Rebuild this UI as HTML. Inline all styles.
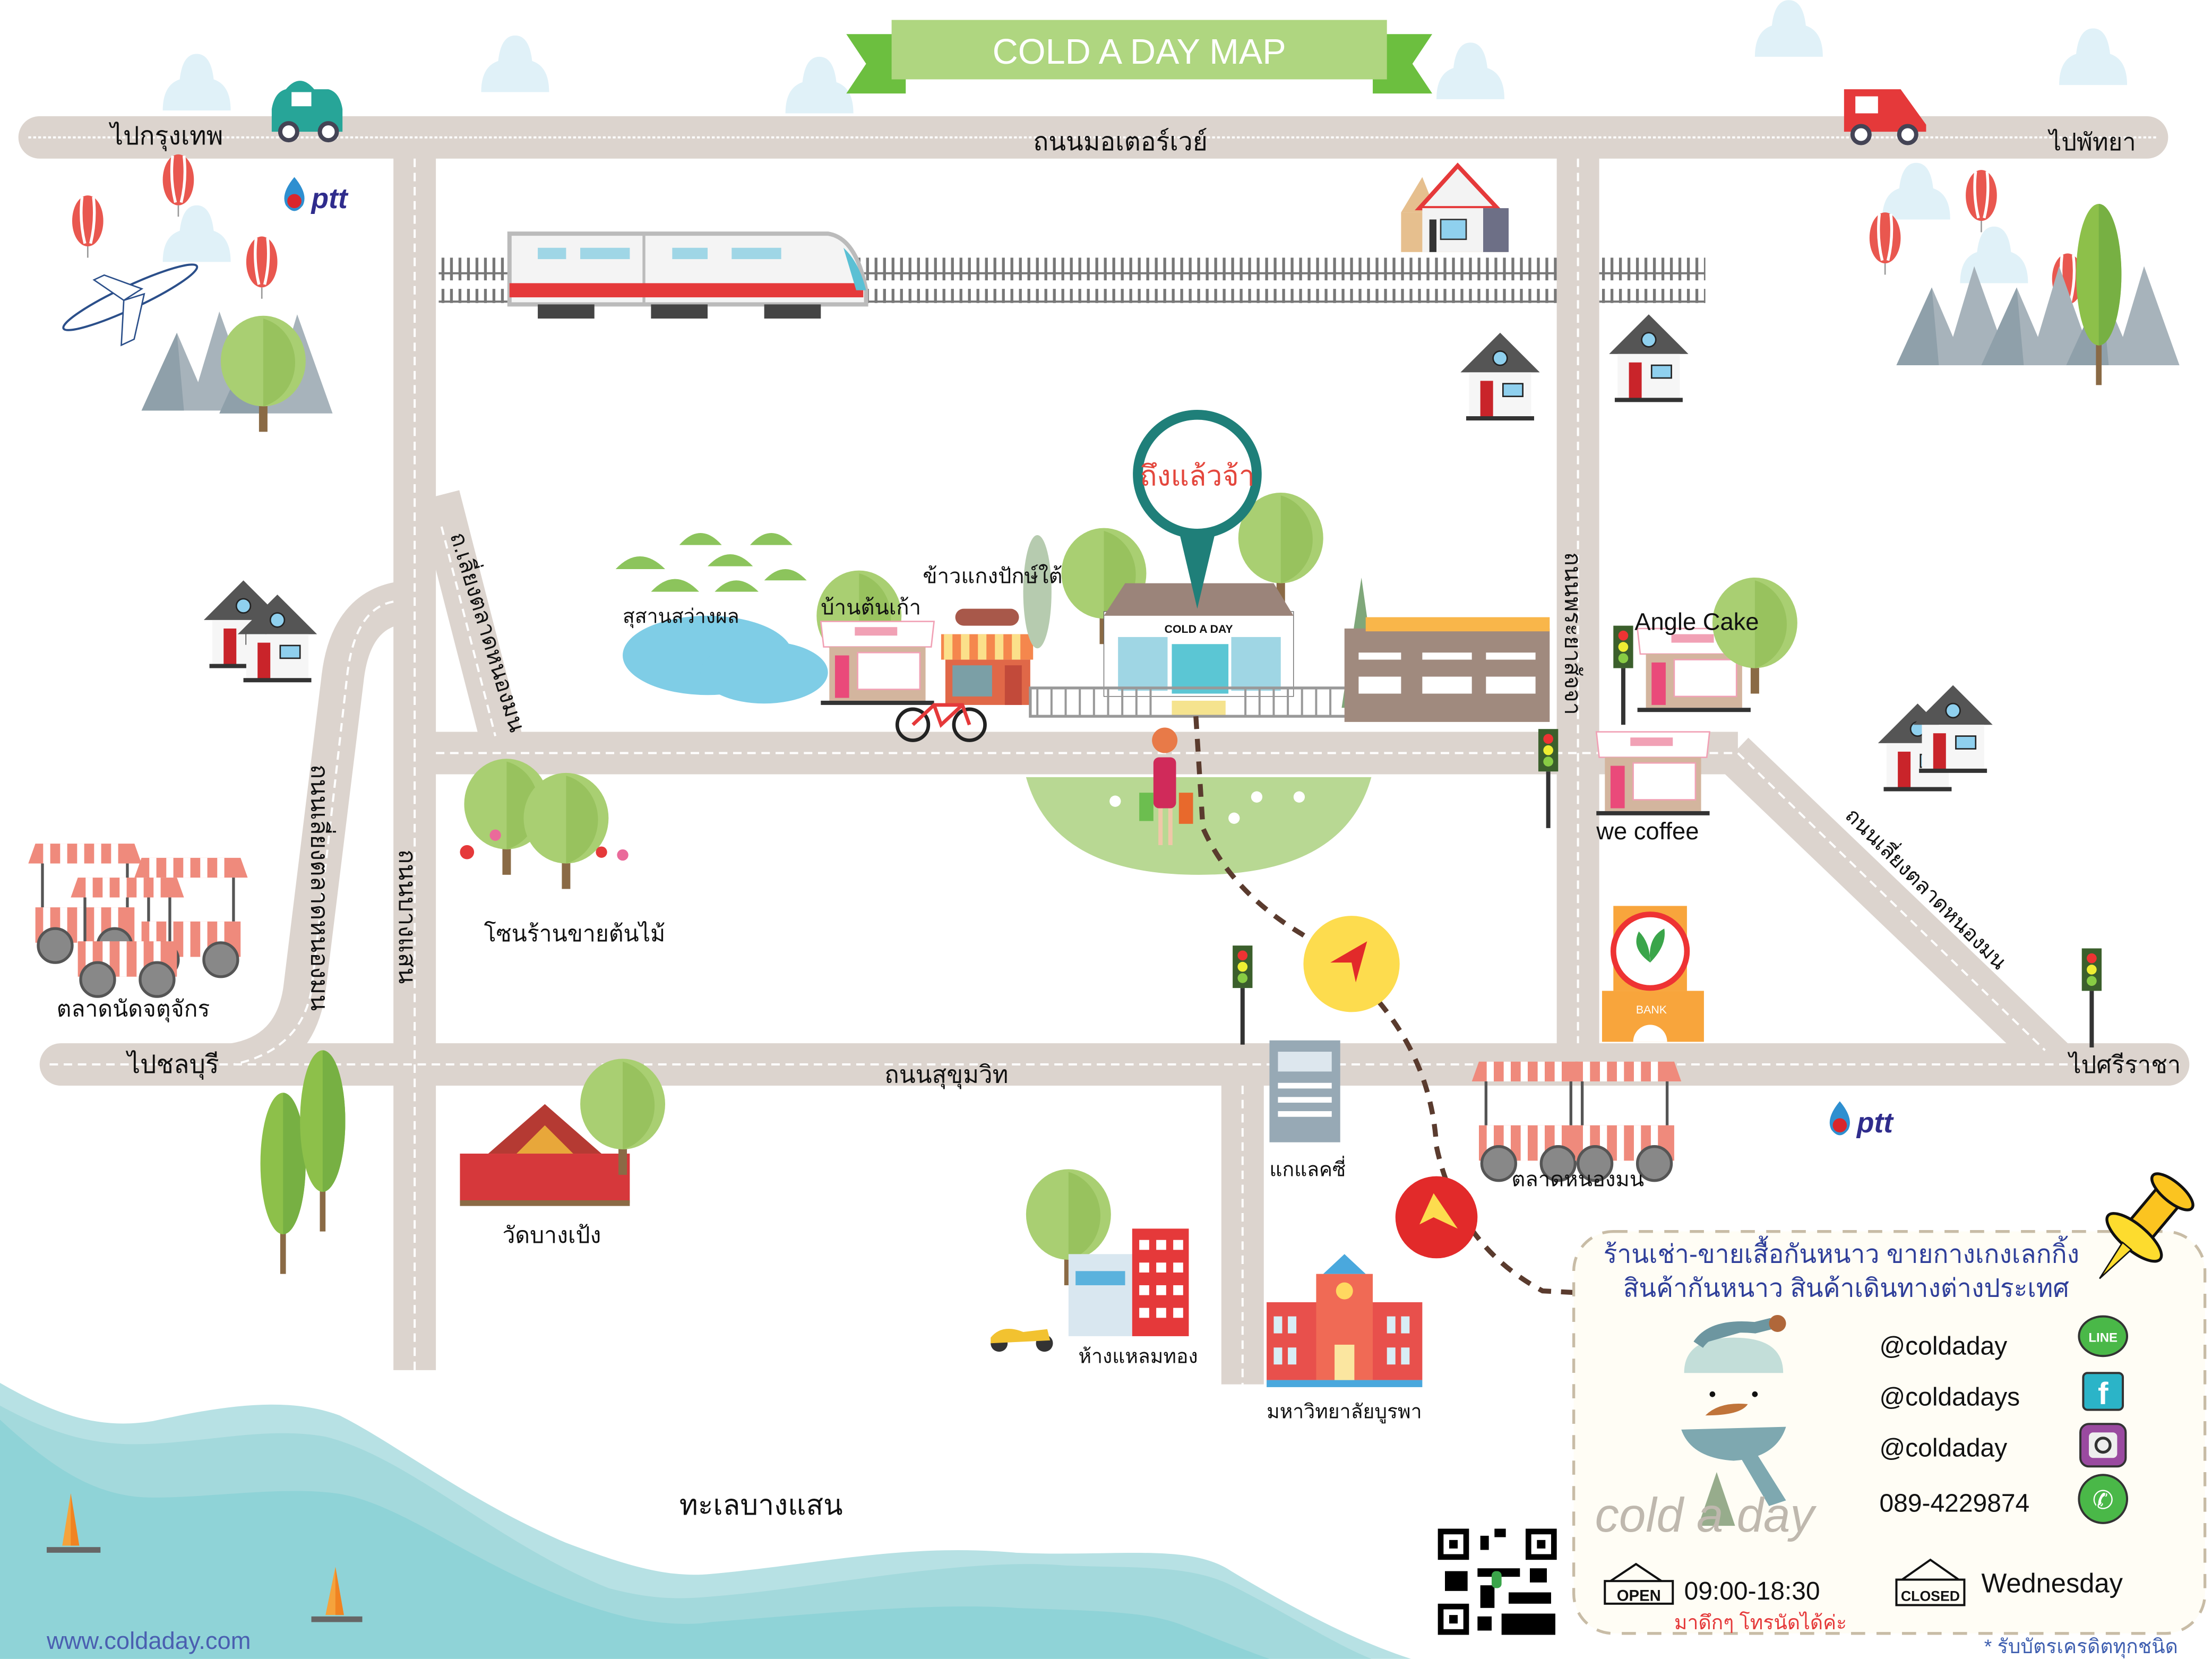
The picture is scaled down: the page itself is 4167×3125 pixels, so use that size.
<!DOCTYPE html>
<html><head><meta charset="utf-8"><style>
html,body{margin:0;padding:0;background:#fff}
svg{display:block}
text{font-family:"Liberation Sans","Noto Sans CJK SC",sans-serif;fill:#111}
</style></head><body>
<svg width="4167" height="3125" viewBox="0 0 1563 1172" xmlns="http://www.w3.org/2000/svg">
<defs>
<g id="cloud"><path d="M0,0 Q0,-18 12,-22 Q14,-40 24,-40 Q34,-40 36,-22 Q48,-18 48,0 Z" fill="#e0f1f8"/></g>
<g id="tree"><rect x="-3" y="0" width="6" height="40" fill="#8a6a45"/><ellipse cx="0" cy="-10" rx="30" ry="32" fill="#a9cf72"/><path d="M0,-40 A30,32 0 0 1 0,22 Z" fill="#98c25e"/></g>
<g id="tallTree"><rect x="-2" y="0" width="4" height="60" fill="#8a6a45"/><ellipse cx="0" cy="-18" rx="16" ry="50" fill="#8dc04a"/><path d="M0,-68 A16,50 0 0 1 0,32 Z" fill="#77b043"/></g>
<g id="house"><path d="M-28,0 L0,-28 L28,0 Z" fill="#555"/><rect x="-22" y="0" width="44" height="32" fill="#f6f6f6"/><rect x="-14" y="6" width="9" height="26" fill="#c9242a"/><rect x="2" y="8" width="14" height="9" fill="#8fd0ee" stroke="#222" stroke-width="1"/><circle cx="0" cy="-10" r="5" fill="#8fd0ee" stroke="#222"/><rect x="-24" y="31" width="48" height="3" fill="#333"/></g>
<g id="mtn"><path d="M0,0 L25,-55 L40,-20 L55,-70 L80,0 Z" fill="#a7b3bb"/><path d="M25,-55 L30,0 L0,0 Z" fill="#8fa0aa"/></g>
<g id="cart"><path d="M0,0 L70,0 L75,14 L-5,14 Z" fill="#ef8a7c"/><path d="M8,0 L8,14 M20,0 L20,14 M32,0 L32,14 M44,0 L44,14 M56,0 L56,14" stroke="#fff" stroke-width="5"/><line x1="5" y1="14" x2="5" y2="45" stroke="#555" stroke-width="2"/><line x1="65" y1="14" x2="65" y2="45" stroke="#555" stroke-width="2"/><rect x="0" y="45" width="70" height="25" fill="#ef8a7c"/><path d="M8,45 L8,70 M20,45 L20,70 M32,45 L32,70 M44,45 L44,70 M56,45 L56,70" stroke="#fff" stroke-width="5"/><circle cx="14" cy="72" r="12" fill="#888" stroke="#555" stroke-width="2"/><circle cx="56" cy="72" r="12" fill="#888" stroke="#555" stroke-width="2"/></g>
<g id="balloon"><ellipse cx="0" cy="0" rx="11" ry="18" fill="#e9574f"/><path d="M-4,-17 Q-6,0 -2,16 M4,-17 Q6,0 2,16" stroke="#fff" stroke-width="2" fill="none"/><line x1="0" y1="18" x2="0" y2="26" stroke="#999"/></g>
<g id="light"><rect x="-1.5" y="0" width="3" height="40" fill="#333"/><rect x="-7" y="-30" width="14" height="30" fill="#3b5f2c"/><circle cx="0" cy="-23" r="3.5" fill="#e33"/><circle cx="0" cy="-15" r="3.5" fill="#ee3"/><circle cx="0" cy="-7" r="3.5" fill="#8c4"/></g>
<g id="shopc"><path d="M-38,0 L38,0 L40,-18 L-40,-18 Z" fill="#fff" stroke="#f1a1b5"/><rect x="-16" y="-14" width="30" height="6" fill="#f1a1b5"/><rect x="-34" y="0" width="68" height="38" fill="#d3b59e"/><rect x="-30" y="6" width="10" height="30" fill="#ea4a7a"/><rect x="-14" y="4" width="44" height="26" fill="#fff" stroke="#f1a1b5"/><rect x="-40" y="38" width="80" height="3" fill="#333"/></g>
</defs>

<use href="#cloud" x="115" y="78"/><use href="#cloud" x="340" y="65"/><use href="#cloud" x="555" y="80"/><use href="#cloud" x="1015" y="70"/><use href="#cloud" x="1240" y="40"/><use href="#cloud" x="1455" y="60"/><use href="#cloud" x="115" y="185"/><use href="#cloud" x="1385" y="200"/>
<use href="#cloud" x="1330" y="155"/>

<path d="M0,977 C40,1000 70,1010 108,1004 C150,995 200,985 240,1000 C280,1020 330,1060 400,1090 C440,1105 470,1115 502,1112 C580,1105 640,1090 718,1097 C790,1100 840,1090 870,1110 C920,1140 960,1160 997,1172 L0,1172 Z" fill="#b7e1e4"/>
<path d="M0,993 C40,1015 70,1022 108,1020 C150,1018 190,1008 230,1015 C290,1030 350,1090 430,1122 C460,1130 480,1130 502,1128 C580,1122 680,1100 753,1106 C800,1108 840,1105 870,1120 C910,1140 940,1160 969,1172 L0,1172 Z" fill="#a3d9dc"/>
<path d="M0,1003 C40,1040 70,1058 108,1058 C150,1058 200,1050 237,1055 C290,1062 350,1120 445,1143 C470,1148 490,1148 502,1146 C580,1140 660,1132 718,1136 C770,1138 810,1138 835,1148 C860,1158 880,1166 897,1172 L0,1172 Z" fill="#8fd3d7"/>
<path d="M50,1055 L44,1092 L56,1092 Z" fill="#f5a33c"/><path d="M50,1055 L50,1092 L56,1092 Z" fill="#f08322"/><rect x="33" y="1093" width="38" height="4" fill="#666"/>
<path d="M237,1107 L230,1141 L243,1141 Z" fill="#f5a33c"/><path d="M237,1107 L237,1141 L243,1141 Z" fill="#f08322"/><rect x="220" y="1142" width="36" height="4" fill="#666"/>
<text x="33" y="1165" font-size="17" style="fill:#4a5fb0">www.coldaday.com</text>
<text x="480" y="1070" font-size="20">ทะเลบางแสน</text>

<!-- railway drawn before roads -->
<g stroke="#777" stroke-width="1.5">
<line x1="310" y1="193" x2="1100" y2="193"/><line x1="310" y1="213" x2="1100" y2="213"/>
<line x1="1130" y1="193" x2="1205" y2="193"/><line x1="1130" y1="213" x2="1205" y2="213"/>
</g>
<path d="M312,190 L1100,190 M1132,190 L1205,190" stroke="#777" stroke-width="16" stroke-dasharray="2,4" fill="none"/>
<path d="M312,209 L1100,209 M1132,209 L1205,209" stroke="#777" stroke-width="10" stroke-dasharray="2,4" fill="none"/>

<g fill="none" stroke="#dcd4ce" stroke-width="30" stroke-linecap="round">
<line x1="28" y1="97" x2="1517" y2="97"/>
<line x1="293" y1="97" x2="293" y2="968" stroke-linecap="butt"/>
<line x1="1115" y1="97" x2="1115" y2="752" stroke-linecap="butt"/>
<line x1="293" y1="532" x2="1228" y2="532" stroke-linecap="butt"/>
<path d="M1225,532 L1455,752" stroke-linecap="butt"/>
<line x1="43" y1="752" x2="1532" y2="752"/>
<line x1="878" y1="752" x2="878" y2="978" stroke-linecap="butt"/>
<path d="M293,425 Q248,425 242,480 L215,700 Q208,745 165,752" stroke-linecap="butt"/>
<path d="M310,350 L355,525" stroke-linecap="butt"/>
</g>
<g fill="none" stroke="#fff" stroke-width="1.5" stroke-dasharray="6,4">
<line x1="20" y1="97" x2="1525" y2="97" stroke-dasharray="2,1.5"/>
<line x1="293" y1="112" x2="293" y2="975"/>
<line x1="1115" y1="112" x2="1115" y2="737"/>
<line x1="308" y1="532" x2="1225" y2="532"/>
<path d="M1228,532 L1445,742"/>
<line x1="35" y1="752" x2="1540" y2="752"/>
<line x1="878" y1="767" x2="878" y2="980"/>
<path d="M278,425 Q250,430 245,480 L220,700 Q212,742 165,752"/>
<path d="M312,372 L350,520"/>
</g>

<path d="M598,24 L640,24 L640,66 L598,66 L612,45 Z" fill="#6cbf3f"/>
<path d="M1012,24 L970,24 L970,66 L1012,66 L998,45 Z" fill="#6cbf3f"/>
<rect x="630" y="14" width="350" height="42" fill="#afd680"/>
<text x="805" y="45" font-size="25" text-anchor="middle" style="fill:#fff">COLD A DAY   MAP</text>

<g transform="translate(192,63)"><path d="M10,0 Q20,-12 30,0 L40,0 Q48,2 50,14 L50,30 L0,30 L0,14 Q2,2 10,0Z" fill="#27a598"/><rect x="14" y="2" width="14" height="10" fill="#fff"/><circle cx="12" cy="30" r="6" fill="#fff" stroke="#445" stroke-width="3"/><circle cx="40" cy="30" r="6" fill="#fff" stroke="#445" stroke-width="3"/></g>
<g transform="translate(1303,63)"><path d="M0,0 L40,0 L58,25 L58,30 L0,30 Z" fill="#e5393a"/><rect x="8" y="5" width="16" height="12" fill="#fff"/><circle cx="12" cy="32" r="6" fill="#fff" stroke="#445" stroke-width="3"/><circle cx="45" cy="32" r="6" fill="#fff" stroke="#445" stroke-width="3"/></g>
<text x="78" y="102" font-size="18">ไปกรุงเทพ</text>
<text x="730" y="106" font-size="18">ถนนมอเตอร์เวย์</text>
<text x="1448" y="106" font-size="17">ไปพัทยา</text>

<use href="#balloon" x="62" y="156"/><use href="#balloon" x="126" y="127"/><use href="#balloon" x="185" y="185"/>
<use href="#balloon" x="1332" y="168"/><use href="#balloon" x="1400" y="138"/><use href="#balloon" x="1461" y="197"/>
<g transform="translate(198,125)"><path d="M10,0 Q0,12 4,20 Q10,28 16,20 Q20,12 10,0Z" fill="#2e8fd0"/><circle cx="10" cy="17" r="5" fill="#d9262c"/><text x="22" y="22" font-size="20" font-style="italic" font-weight="bold" style="fill:#2f2c8c">ptt</text></g>
<g transform="translate(1290,778)"><path d="M10,0 Q0,12 4,20 Q10,28 16,20 Q20,12 10,0Z" fill="#2e8fd0"/><circle cx="10" cy="17" r="5" fill="#d9262c"/><text x="22" y="22" font-size="20" font-style="italic" font-weight="bold" style="fill:#2f2c8c">ptt</text></g>
<g transform="translate(92,210) rotate(-25)"><ellipse cx="0" cy="0" rx="52" ry="8" fill="#fff" stroke="#2b4f8a" stroke-width="1.5"/><path d="M-5,0 L-20,28 L-10,28 L10,2 Z M-5,0 L-18,-22 L-10,-22 L10,-2 Z" fill="#fff" stroke="#2b4f8a"/></g>
<use href="#mtn" x="100" y="290"/><use href="#mtn" x="155" y="292"/>
<use href="#tree" x="186" y="265"/>
<use href="#mtn" x="1340" y="258"/><use href="#mtn" x="1400" y="258"/><use href="#mtn" x="1460" y="258"/>
<use href="#tallTree" x="1483" y="212"/>

<g><path d="M360,165 L585,165 Q605,168 612,205 L612,215 L360,215 Z" fill="#f4f4f4" stroke="#bbb" stroke-width="3"/><line x1="455" y1="165" x2="455" y2="215" stroke="#bbb" stroke-width="2"/><rect x="360" y="200" width="250" height="10" fill="#e5393a"/><g fill="#9fd6e6"><rect x="380" y="175" width="20" height="8"/><rect x="410" y="175" width="35" height="8"/><rect x="475" y="175" width="25" height="8"/><rect x="517" y="175" width="35" height="8"/></g><path d="M596,175 Q607,185 612,205 L605,205 Z" fill="#5bc0d4"/><rect x="380" y="215" width="40" height="10" fill="#444"/><rect x="460" y="215" width="40" height="10" fill="#444"/><rect x="540" y="215" width="40" height="10" fill="#444"/></g>

<g transform="translate(990,125)"><path d="M0,25 L15,0 L25,25 Z" fill="#e6bf8e"/><rect x="0" y="25" width="75" height="28" fill="#e6bf8e"/><path d="M13,22 L40,-8 L68,22 Z" fill="#f3f3f3" stroke="#e5393a" stroke-width="3"/><rect x="15" y="22" width="50" height="31" fill="#f3f3f3"/><rect x="58" y="22" width="18" height="31" fill="#6d6f86"/><rect x="28" y="30" width="18" height="14" fill="#8fd0ee" stroke="#333"/><rect x="20" y="30" width="5" height="23" fill="#333"/></g>
<use href="#house" x="1060" y="263"/><use href="#house" x="1165" y="250"/>
<use href="#house" x="172" y="438"/><use href="#house" x="196" y="448"/>
<use href="#house" x="1355" y="525"/><use href="#house" x="1380" y="512"/>

<use href="#cart" x="25" y="596"/><use href="#cart" x="100" y="606"/><use href="#cart" x="55" y="620"/>
<text x="40" y="718" font-size="16">ตลาดนัดจตุจักร</text>
<text x="90" y="758" font-size="18">ไปชลบุรี</text>
<text transform="translate(220,540) rotate(90)" font-size="17">ถนนเลี่ยงตลาดหนองมน</text>
<text transform="translate(282,600) rotate(90)" font-size="17">ถนนบางแสน</text>
<text transform="translate(318,378) rotate(73)" font-size="16">ถ.เลี่ยงตลาดหนองมน</text>
<use href="#tree" x="358" y="578"/><use href="#tree" x="400" y="588"/>
<g fill="#e5393a"><circle cx="330" cy="602" r="5"/><circle cx="350" cy="590" r="4" fill="#ea6a9a"/><circle cx="440" cy="604" r="4" fill="#ea6a9a"/><circle cx="425" cy="602" r="4"/></g>
<text x="342" y="665" font-size="16">โซนร้านขายต้นไม้</text>
<use href="#tallTree" x="200" y="840"/><use href="#tallTree" x="228" y="810"/>

<g transform="translate(325,780)"><rect x="0" y="35" width="120" height="35" fill="#d6383b"/><path d="M20,35 L60,0 L100,35 Z" fill="#b53a33"/><path d="M40,35 L60,15 L80,35 Z" fill="#e8a73a"/><rect x="0" y="68" width="120" height="4" fill="#8b6a45"/></g>
<use href="#tree" x="440" y="790"/>
<text x="355" y="878" font-size="16">วัดบางเป้ง</text>

<ellipse cx="500" cy="463" rx="60" ry="28" fill="#7fcde6"/><ellipse cx="540" cy="475" rx="45" ry="22" fill="#7fcde6"/>
<g fill="#8cc45c"><path d="M480,385 Q495,368 510,385Z"/><path d="M530,385 Q545,368 560,385Z"/><path d="M435,402 Q452,384 470,402Z"/><path d="M500,400 Q516,383 532,400Z"/><path d="M540,410 Q555,394 570,410Z"/><path d="M460,418 Q477,400 494,418Z"/><path d="M505,418 Q520,402 536,418Z"/></g>
<text x="440" y="440" font-size="14">สุสานสว่างผล</text>
<use href="#tree" x="607" y="445"/>
<use href="#shopc" x="620" y="457"/>
<text x="580" y="434" font-size="15">บ้านต้นเก้า</text>
<g transform="translate(665,448)"><rect x="0" y="0" width="65" height="18" fill="#f5874d"/><path d="M5,0 L5,18 M17,0 L17,18 M29,0 L29,18 M41,0 L41,18 M53,0 L53,18" stroke="#fbe08a" stroke-width="6"/><rect x="3" y="18" width="60" height="32" fill="#e06848"/><rect x="8" y="22" width="28" height="22" fill="#7b9fa6"/><rect x="45" y="22" width="12" height="28" fill="#c24a3a"/><rect x="10" y="-18" width="45" height="12" rx="6" fill="#a8584a"/></g>
<ellipse cx="733" cy="418" rx="10" ry="40" fill="#b6cbaf"/>
<text x="652" y="412" font-size="15">ข้าวแกงปักษ์ใต้</text>
<g transform="translate(665,512)" fill="none" stroke="#222" stroke-width="2.5"><circle cx="-20" cy="0" r="11"/><circle cx="20" cy="0" r="11"/><path d="M-20,0 L-5,-14 L15,-14 L20,0 M-5,-14 L0,0 L15,-14" stroke="#e5393a"/></g>

<path d="M725,549 L969,549 Q950,618 847,618 Q744,618 725,549 Z" fill="#b8d893"/>
<use href="#tree" x="780" y="415"/><use href="#tree" x="905" y="390"/>
<path d="M962,408 L975,500 L948,500 Z" fill="#7fa77a"/>
<rect x="780" y="432" width="134" height="60" fill="#fff" stroke="#666" stroke-width="0.5"/>
<path d="M780,435 L795,412 L900,412 L914,435 Z" fill="#9b847a"/>
<rect x="790" y="450" width="35" height="38" fill="#9fd6e4"/><rect x="870" y="450" width="35" height="38" fill="#9fd6e4"/><rect x="828" y="455" width="40" height="35" fill="#5bc6d4"/>
<text x="847" y="447" font-size="8" font-weight="bold" text-anchor="middle" font-family="Liberation Serif">COLD A DAY</text>
<rect x="828" y="495" width="38" height="12" fill="#f5e38e"/>
<rect x="728" y="486" width="225" height="20" fill="none" stroke="#999" stroke-width="2"/>
<path d="M733,486 L733,506 M743,486 L743,506 M753,486 L753,506 M763,486 L763,506 M773,486 L773,506 M783,486 L783,506 M793,486 L793,506 M803,486 L803,506 M813,486 L813,506 M880,486 L880,506 M890,486 L890,506 M900,486 L900,506 M910,486 L910,506 M920,486 L920,506 M930,486 L930,506 M940,486 L940,506" stroke="#999" stroke-width="1.5"/>
<g transform="translate(950,436)"><rect x="0" y="8" width="145" height="66" fill="#a08a7e"/><rect x="15" y="0" width="130" height="10" fill="#f9b64a"/><g fill="#fff"><rect x="10" y="25" width="30" height="5"/><rect x="55" y="25" width="35" height="5"/><rect x="100" y="25" width="35" height="5"/><rect x="10" y="42" width="30" height="12"/><rect x="55" y="42" width="35" height="12"/><rect x="100" y="42" width="35" height="12"/></g></g>
<circle cx="846" cy="335" r="42" fill="#fff" stroke="#1f7f79" stroke-width="7"/>
<path d="M833,375 L846,430 L859,375 Z" fill="#1f7f79"/>
<text x="846" y="343" font-size="20" text-anchor="middle" style="fill:#e4473d">ถึงแล้วจ้า</text>
<g transform="translate(823,515)"><circle cx="0" cy="8" r="9" fill="#e87a48"/><rect x="-8" y="20" width="16" height="36" rx="4" fill="#d02a5a"/><rect x="-18" y="45" width="10" height="20" fill="#6cbe4f"/><rect x="10" y="45" width="10" height="22" fill="#e8692c"/><line x1="-3" y1="56" x2="-3" y2="82" stroke="#f0c7a8" stroke-width="3"/><line x1="4" y1="56" x2="4" y2="82" stroke="#f0c7a8" stroke-width="3"/></g>
<g fill="#fff"><circle cx="788" cy="566" r="4"/><circle cx="872" cy="578" r="4"/><circle cx="888" cy="563" r="4"/><circle cx="918" cy="563" r="4"/></g>

<path d="M845,506 L850,585 Q870,630 920,660 Q1010,720 1015,810 Q1030,880 1090,912 L1130,914" fill="none" stroke="#5a3b2e" stroke-width="3.5" stroke-dasharray="9,7"/>
<circle cx="955" cy="681" r="34" fill="#fddc4e"/><path d="M940,680 L966,665 L958,694 L955,680 Z" fill="#e22a2a"/>
<circle cx="1015" cy="860" r="29" fill="#e22a2a"/><path d="M1003,865 L1013,843 L1030,868 L1013,860 Z" fill="#fddc4e"/>

<use href="#light" x="1147" y="472"/><use href="#light" x="1094" y="545"/><use href="#light" x="878" y="698"/><use href="#light" x="1478" y="700"/>
<use href="#shopc" x="1197" y="462"/>
<use href="#tree" x="1240" y="450"/>
<text x="1155" y="445" font-size="17" font-family="Liberation Mono">Angle Cake</text>
<use href="#shopc" x="1168" y="535"/>
<text x="1128" y="593" font-size="17" font-family="Liberation Mono">we coffee</text>
<text transform="translate(1106,390) rotate(90)" font-size="16">ถนนพระยาสัจจา</text>
<text transform="translate(1303,577) rotate(45)" font-size="15">ถนนเลี่ยงตลาดหนองมน</text>
<g transform="translate(1132,640)"><rect x="8" y="0" width="52" height="60" fill="#f8a53c"/><circle cx="34" cy="32" r="26" fill="#fff" stroke="#e33" stroke-width="4"/><path d="M34,40 Q20,30 26,18 Q34,26 34,40 Q46,28 44,16 Q32,22 34,40Z" fill="#3aa54a"/><rect x="0" y="60" width="72" height="36" fill="#f8a53c"/><text x="24" y="76" font-size="8" style="fill:#fff">BANK</text><path d="M22,96 A12,12 0 0 1 46,96 Z" fill="#fff"/></g>
<text x="1462" y="758" font-size="17">ไปศรีราชา</text>
<text x="625" y="765" font-size="17">ถนนสุขุมวิท</text>
<use href="#cart" x="1045" y="750"/><use href="#cart" x="1113" y="750"/>
<text x="1068" y="838" font-size="15">ตลาดหนองมน</text>
<g transform="translate(897,735)"><rect x="0" y="0" width="50" height="72" fill="#97a9b5"/><rect x="6" y="8" width="38" height="14" fill="#dde7ee"/><rect x="6" y="30" width="38" height="4" fill="#fff"/><rect x="6" y="40" width="38" height="4" fill="#fff"/><rect x="6" y="50" width="38" height="4" fill="#fff"/></g>
<text x="897" y="831" font-size="14">แกแลคซี่</text>
<use href="#tree" x="755" y="868"/>
<g transform="translate(755,868)"><rect x="0" y="18" width="45" height="58" fill="#d9e7f0"/><rect x="45" y="0" width="40" height="76" fill="#e5393a"/><rect x="5" y="30" width="35" height="10" fill="#5ab2dd"/><g fill="#fff"><rect x="50" y="8" width="7" height="7"/><rect x="62" y="8" width="7" height="7"/><rect x="74" y="8" width="7" height="7"/><rect x="50" y="24" width="7" height="7"/><rect x="62" y="24" width="7" height="7"/><rect x="74" y="24" width="7" height="7"/><rect x="50" y="40" width="7" height="7"/><rect x="62" y="40" width="7" height="7"/><rect x="74" y="40" width="7" height="7"/><rect x="50" y="56" width="7" height="7"/><rect x="62" y="56" width="7" height="7"/><rect x="74" y="56" width="7" height="7"/></g></g>
<g transform="translate(698,935)"><circle cx="8" cy="14" r="6" fill="#333"/><circle cx="40" cy="14" r="6" fill="#333"/><path d="M2,10 Q10,0 25,6 L42,4 L44,12 L2,14Z" fill="#f2c230"/></g>
<text x="762" y="963" font-size="14">ห้างแหลมทอง</text>
<g transform="translate(895,890)"><rect x="0" y="30" width="110" height="55" fill="#e8504c"/><rect x="35" y="10" width="40" height="75" fill="#f06a55"/><path d="M40,10 L55,-4 L70,10Z" fill="#4aa8dd"/><circle cx="55" cy="22" r="6" fill="#ffd860"/><rect x="0" y="85" width="110" height="5" fill="#4aa8dd"/><g fill="#d8eef6"><rect x="5" y="40" width="6" height="12"/><rect x="15" y="40" width="6" height="12"/><rect x="85" y="40" width="6" height="12"/><rect x="95" y="40" width="6" height="12"/><rect x="5" y="62" width="6" height="12"/><rect x="15" y="62" width="6" height="12"/><rect x="85" y="62" width="6" height="12"/><rect x="95" y="62" width="6" height="12"/></g><rect x="48" y="60" width="14" height="25" fill="#fbe6a0"/></g>
<text x="895" y="1002" font-size="14">มหาวิทยาลัยบูรพา</text>

<g transform="translate(1016,1080)"><rect width="84" height="75" fill="#fff"/><g fill="#000"><rect x="0" y="0" width="22" height="22"/><rect x="62" y="0" width="22" height="22"/><rect x="0" y="53" width="22" height="22"/><rect x="30" y="5" width="6" height="10"/><rect x="40" y="0" width="8" height="6"/><rect x="28" y="28" width="30" height="6"/><rect x="5" y="30" width="16" height="14"/><rect x="30" y="40" width="10" height="16"/><rect x="50" y="45" width="30" height="8"/><rect x="45" y="60" width="38" height="15"/><rect x="28" y="62" width="10" height="10"/><rect x="65" y="28" width="12" height="10"/></g><g fill="#fff"><rect x="4" y="4" width="14" height="14"/><rect x="66" y="4" width="14" height="14"/><rect x="4" y="57" width="14" height="14"/></g><g fill="#000"><rect x="8" y="8" width="6" height="6"/><rect x="70" y="8" width="6" height="6"/><rect x="8" y="61" width="6" height="6"/></g><rect x="38" y="30" width="7" height="12" rx="3" fill="#3aa54a"/></g>

<rect x="1112" y="870" width="446" height="284" rx="28" fill="#fffdf5" stroke="#c8bca6" stroke-width="2" stroke-dasharray="10,8"/>
<text x="1133" y="892" font-size="18" style="fill:#2f3f9a">ร้านเช่า-ขายเสื้อกันหนาว  ขายกางเกงเลกกิ้ง</text>
<text x="1147" y="916" font-size="18" style="fill:#2f3f9a">สินค้ากันหนาว  สินค้าเดินทางต่างประเทศ</text>
<g transform="translate(1535,842) rotate(40)"><rect x="-10" y="0" width="20" height="40" fill="#fbc420" stroke="#111" stroke-width="2"/><ellipse cx="0" cy="0" rx="18" ry="7" fill="#fbc420" stroke="#111" stroke-width="2"/><ellipse cx="0" cy="42" rx="24" ry="9" fill="#fddc2e" stroke="#111" stroke-width="2"/><path d="M-4,50 L0,80 L4,50Z" fill="#fddc2e" stroke="#111"/></g>
<path d="M1190,970 Q1190,945 1225,945 Q1260,945 1260,970 Z" fill="#c3ded9"/><path d="M1200,950 Q1210,935 1240,938 L1252,935" fill="#6d96a0" stroke="#6d96a0" stroke-width="8"/><circle cx="1256" cy="935" r="6" fill="#b0673a"/>
<circle cx="1210" cy="985" r="2" fill="#111"/><circle cx="1240" cy="985" r="2" fill="#111"/><path d="M1205,1000 Q1215,990 1235,992 Q1230,1000 1205,1000Z" fill="#c0743a"/>
<path d="M1188,1010 L1262,1008 Q1255,1030 1225,1032 Q1195,1030 1188,1010Z" fill="#7ea8b0"/><path d="M1240,1025 L1262,1060 L1250,1064 L1230,1030Z" fill="#7ea8b0"/>
<path d="M1213,1040 L1200,1078 L1226,1078 Z" fill="#97ac8c"/>
<text x="1127" y="1082" font-size="34" font-family="Liberation Serif" font-style="italic" style="fill:#bfb8ae">cold a day</text>
<text x="1328" y="957" font-size="18" font-family="Liberation Mono">@coldaday</text>
<text x="1328" y="993" font-size="18" font-family="Liberation Mono">@coldadays</text>
<text x="1328" y="1029" font-size="18" font-family="Liberation Mono">@coldaday</text>
<text x="1328" y="1068" font-size="18" font-family="Liberation Mono">089-4229874</text>
<ellipse cx="1486" cy="944" rx="17" ry="14" fill="#4ab848" stroke="#333" stroke-width="1.5"/><text x="1486" y="948" font-size="9" font-weight="bold" text-anchor="middle" style="fill:#fff">LINE</text>
<rect x="1472" y="970" width="28" height="26" rx="3" fill="#2bb4c8" stroke="#333" stroke-width="1.5"/><text x="1486" y="992" font-size="22" font-weight="bold" text-anchor="middle" style="fill:#fff">f</text>
<rect x="1470" y="1006" width="32" height="30" rx="6" fill="#9a4aa0" stroke="#333" stroke-width="1.5"/><rect x="1476" y="1012" width="20" height="18" rx="3" fill="#eee"/><circle cx="1486" cy="1021" r="5" fill="none" stroke="#333" stroke-width="2"/>
<circle cx="1486" cy="1059" r="17" fill="#4ab848" stroke="#333" stroke-width="1.5"/><text x="1486" y="1066" font-size="18" text-anchor="middle" style="fill:#fff">✆</text>
<g transform="translate(1134,1105)" fill="none" stroke="#111" stroke-width="1.5"><path d="M4,12 L22,0 L40,12"/><rect x="0" y="12" width="48" height="16"/></g><text x="1158" y="1131" font-size="11" font-weight="bold" text-anchor="middle">OPEN</text>
<text x="1190" y="1130" font-size="18" font-family="Liberation Mono">09:00-18:30</text>
<g transform="translate(1340,1102)" fill="none" stroke="#111" stroke-width="1.5"><path d="M4,14 L24,0 L44,14"/><rect x="0" y="14" width="48" height="18"/></g><text x="1364" y="1131" font-size="10" font-weight="bold" text-anchor="middle">CLOSED</text>
<text x="1400" y="1125" font-size="19" font-family="Liberation Mono">Wednesday</text>
<text x="1183" y="1151" font-size="14" style="fill:#e5393a">มาดึกๆ โทรนัดได้ค่ะ</text>
<text x="1402" y="1168" font-size="14" style="fill:#3f5fb0">* รับบัตรเครดิตทุกชนิด</text>
</svg>
</body></html>
